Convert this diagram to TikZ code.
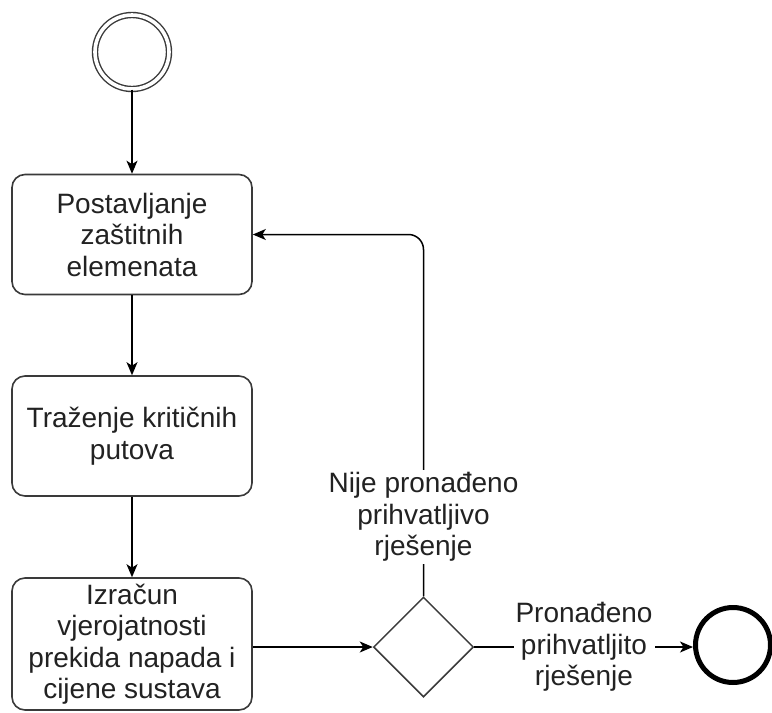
\documentclass[tikz,border=0pt]{standalone}
\usepackage{fontspec}
\setmainfont{Liberation Sans}
\usetikzlibrary{arrows.meta,shapes.geometric}

\definecolor{edgegray}{HTML}{3A3A3A}
\definecolor{inkgray}{HTML}{222222}

\tikzset{
  diagfont/.style={font=\fontsize{28}{31.5}\selectfont, text=inkgray},
  taskbox/.style={draw=edgegray, line width=1.6pt, rounded corners=13pt,
    minimum width=240pt, minimum height=120pt, inner sep=0pt,
    align=center, diagfont},
  startevent/.style={circle, draw=edgegray, line width=1.4pt, double,
    double distance=3.6pt, minimum size=74pt, inner sep=0pt},
  endevent/.style={circle, draw=black, line width=5pt, minimum size=75pt,
    inner sep=0pt},
  gateway/.style={diamond, draw=edgegray, line width=1.5pt, aspect=1,
    minimum width=100pt, minimum height=100pt, inner sep=0pt},
  flowlabel/.style={fill=white, align=center, inner sep=2pt, diagfont},
  flow/.style={draw=black, line width=1.5pt,
    -{Stealth[length=13pt,width=11pt,inset=3.5pt]}},
}

\begin{document}
\begin{tikzpicture}[x=1pt,y=-1pt]
\useasboundingbox (0,0) rectangle (772,713);

% events and activities
\node[startevent] (start) at (132,52) {};
\node[taskbox] (place) at (132,234.5) {Postavljanje\\zaštitnih\\elemenata};
\node[taskbox] (search) at (132,436) {Traženje kritičnih\\putova};
\node[taskbox, minimum height=132pt] (calc) at (132,644)
  {Izračun\\vjerojatnosti\\prekida napada i\\cijene sustava};
\node[gateway] (gate) at (423.5,647) {};
\node[endevent] (finish) at (733,645) {};

% sequence flows
\draw[flow] (start) -- (place);
\draw[flow] (place) -- (search);
\draw[flow] (search) -- (calc);
\draw[flow] (calc.east |- gate.west) -- (gate.west);
\draw[flow, rounded corners=15pt] (gate.north) -- (gate.north |- place.east) -- (place.east);
\draw[flow] (gate.east) -- (finish.west |- gate.east);

% flow labels
\node[flowlabel] (retry) at (423.5,517) {Nije pronađeno\\prihvatljivo\\rješenje};
\node[flowlabel] (accept) at (584,647) {Pronađeno\\prihvatljito\\rješenje};
\end{tikzpicture}
\end{document}
